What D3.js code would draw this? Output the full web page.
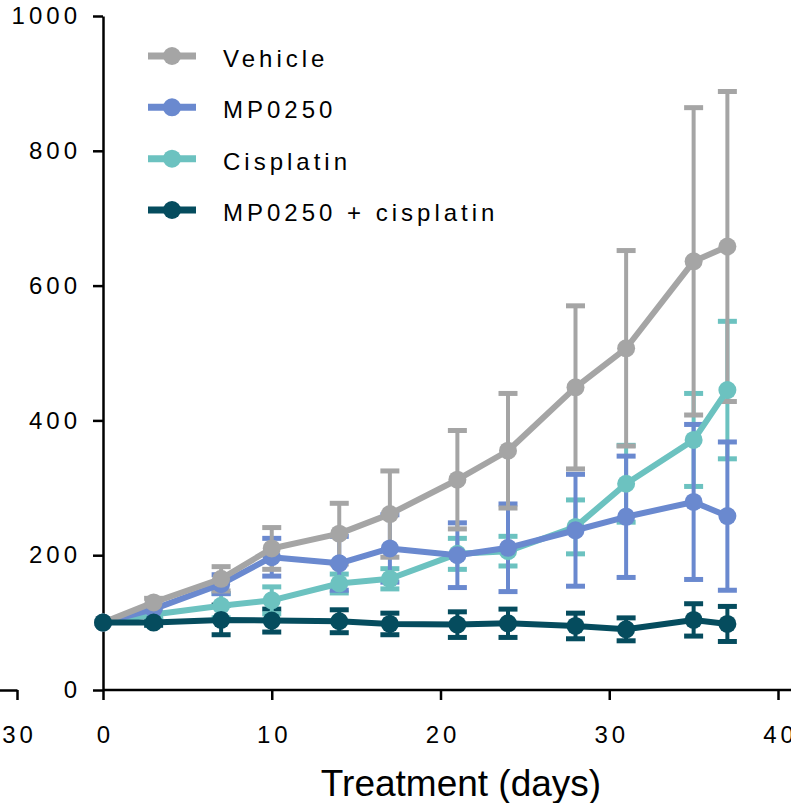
<!doctype html>
<html lang="en">
  <head>
    <meta charset="utf-8">
    <title>Tumour volume</title>
    <style>
    body { margin: 0; background: #fff; }
    svg { display: block; }
    .axis text {
      font-family: "Liberation Sans", Arial, sans-serif;
      font-size: 24px;
      letter-spacing: 4px;
      fill: #000;
    }
    .axis path, .axis line {
      stroke: #000;
      stroke-width: 2.5px;
    }
    .legend text {
      font-family: "Liberation Sans", Arial, sans-serif;
      font-size: 24px;
      letter-spacing: 4px;
    }
    </style>
  </head>
  <body>
    <div id="content"></div>

    <script src="https://d3js.org/d3.v7.min.js"></script>
    <script type="text/javascript">
    var w = 791;
    var h = 803;

    // days after start of treatment
    var days = [0, 3, 7, 10, 14, 17, 21, 24, 28, 31, 35, 37];

    // mean tumour volume and error
    var vehicle      = [100, 130, 165, 210, 232, 261, 312, 355, 449, 507, 636, 658];
    var vehicleErr   = [0, 6, 18, 31, 45, 64, 73, 85, 121, 145, 228, 230];
    var mp0250       = [100, 120, 157, 197, 188, 210, 200, 211, 237, 257, 279, 258];
    var mp0250Err    = [0, 5, 14, 28, 40, 50, 48, 65, 83, 90, 115, 110];
    var cisplatin    = [100, 112, 125, 133, 158, 165, 202, 206, 242, 306, 371, 445];
    var cisplatinErr = [0, 4, 18, 20, 14, 15, 23, 22, 40, 57, 69, 102];
    var combo        = [100, 100, 104, 103, 102, 98, 97, 99, 95, 90, 104, 98];
    var comboErr     = [0, 4, 22, 17, 17, 16, 19, 21, 19, 17, 24, 26];

    var seriesNames = ['Vehicle', 'MP0250', 'Cisplatin', 'MP0250 + cisplatin'];
    var seriesColors = ['#a5a5a5', '#6a89cf', '#6cc2c0', '#054c5e'];

    var xTicks = [0, 10, 20, 30, 40];
    var yTicks = [0, 200, 400, 600, 800, 1000];
    var xTitle = 'Treatment (days)';

    var series = [
      {name: seriesNames[0], color: seriesColors[0], mean: vehicle, err: vehicleErr},
      {name: seriesNames[1], color: seriesColors[1], mean: mp0250, err: mp0250Err},
      {name: seriesNames[2], color: seriesColors[2], mean: cisplatin, err: cisplatinErr},
      {name: seriesNames[3], color: seriesColors[3], mean: combo, err: comboErr}
    ].map(s => {
      s.points = days.map((d, i) => ({x: d, y: s.mean[i], e: s.err[i]}));
      return s;
    });

    var svg = d3.select('#content')
                .append('svg')
                .attr('width', w)
                .attr('height', h);

    var xScale = d3.scaleLinear()
                   .domain([0, 40])
                   .range([103, 778]);

    var yScale = d3.scaleLinear()
                   .domain([0, 1000])
                   .range([690, 16]);

    // piece of the neighbouring panel's x axis, cut off at the left edge
    var xNeighbour = d3.scaleLinear()
                       .domain([20, 30])
                       .range([17 - 168.75, 17]);

    var nb = svg.append('g')
      .attr('class', 'axis')
      .attr('transform', `translate(0, ${yScale(0)})`)
      .call(d3.axisBottom(xNeighbour).tickValues([30]).tickSize(10).tickSizeOuter(0).tickPadding(26));
    nb.selectAll('text').attr('dx', 2);

    // x axis
    var xg = svg.append('g')
      .attr('class', 'axis')
      .attr('transform', `translate(0, ${yScale(0)})`)
      .call(d3.axisBottom(xScale).tickValues(xTicks).tickSize(10).tickSizeOuter(0).tickPadding(26));
    xg.select('.domain').attr('d', `M${xScale(0)},0H${w}`);
    xg.selectAll('text').attr('dx', 2);

    // y axis
    var yg = svg.append('g')
      .attr('class', 'axis')
      .attr('transform', `translate(${xScale(0)}, 0)`)
      .call(d3.axisLeft(yScale).tickValues(yTicks).tickFormat(d3.format('d'))
              .tickSize(10).tickSizeOuter(0).tickPadding(16));
    yg.selectAll('text').attr('dx', 4);

    svg.append('text')
      .attr('x', 461)
      .attr('y', 796)
      .attr('text-anchor', 'middle')
      .style('font-family', '"Liberation Sans", Arial, sans-serif')
      .style('font-size', '37px')
      .text(xTitle);

    var line = d3.line()
                 .x(d => xScale(d.x))
                 .y(d => yScale(d.y));

    var capW = 9.5;

    // error bars first, then lines and points
    var drawOrder = [3, 2, 1, 0];
    drawOrder.forEach(k => {
      var s = series[k];
      var g = svg.append('g').attr('stroke', s.color).attr('stroke-width', 4);
      var bars = g.selectAll('g')
        .data(s.points.filter(p => p.e > 0))
        .enter()
        .append('g');
      bars.append('line')
        .attr('x1', d => xScale(d.x)).attr('x2', d => xScale(d.x))
        .attr('y1', d => yScale(d.y + d.e)).attr('y2', d => yScale(d.y - d.e));
      bars.append('line')
        .attr('x1', d => xScale(d.x) - capW).attr('x2', d => xScale(d.x) + capW)
        .attr('y1', d => yScale(d.y + d.e)).attr('y2', d => yScale(d.y + d.e))
        .attr('stroke-width', 5);
      bars.append('line')
        .attr('x1', d => xScale(d.x) - capW).attr('x2', d => xScale(d.x) + capW)
        .attr('y1', d => yScale(d.y - d.e)).attr('y2', d => yScale(d.y - d.e))
        .attr('stroke-width', 5);
    });

    [2, 1, 0, 3].forEach(k => {
      var s = series[k];
      svg.append('path')
        .datum(s.points)
        .attr('d', line)
        .attr('fill', 'none')
        .attr('stroke', s.color)
        .attr('stroke-width', 6)
        .attr('stroke-linejoin', 'round');
      svg.append('g')
        .selectAll('circle')
        .data(s.points)
        .enter()
        .append('circle')
        .attr('cx', d => xScale(d.x))
        .attr('cy', d => yScale(d.y))
        .attr('r', 9)
        .attr('fill', s.color);
    });

    // legend
    var legend = svg.append('g').attr('class', 'legend');
    var rowY = d3.scalePoint().domain(seriesNames).range([56, 210]);
    var item = legend.selectAll('g')
      .data(series)
      .enter()
      .append('g')
      .attr('transform', d => `translate(148, ${rowY(d.name)})`);
    item.append('line')
      .attr('x1', 0).attr('x2', 48)
      .attr('stroke', d => d.color)
      .attr('stroke-width', 7);
    item.append('circle')
      .attr('cx', 24)
      .attr('r', 9)
      .attr('fill', d => d.color);
    item.append('text')
      .attr('x', 75)
      .attr('y', 11)
      .attr('fill', '#000')
      .text(d => d.name);
    </script>
  </body>
</html>
